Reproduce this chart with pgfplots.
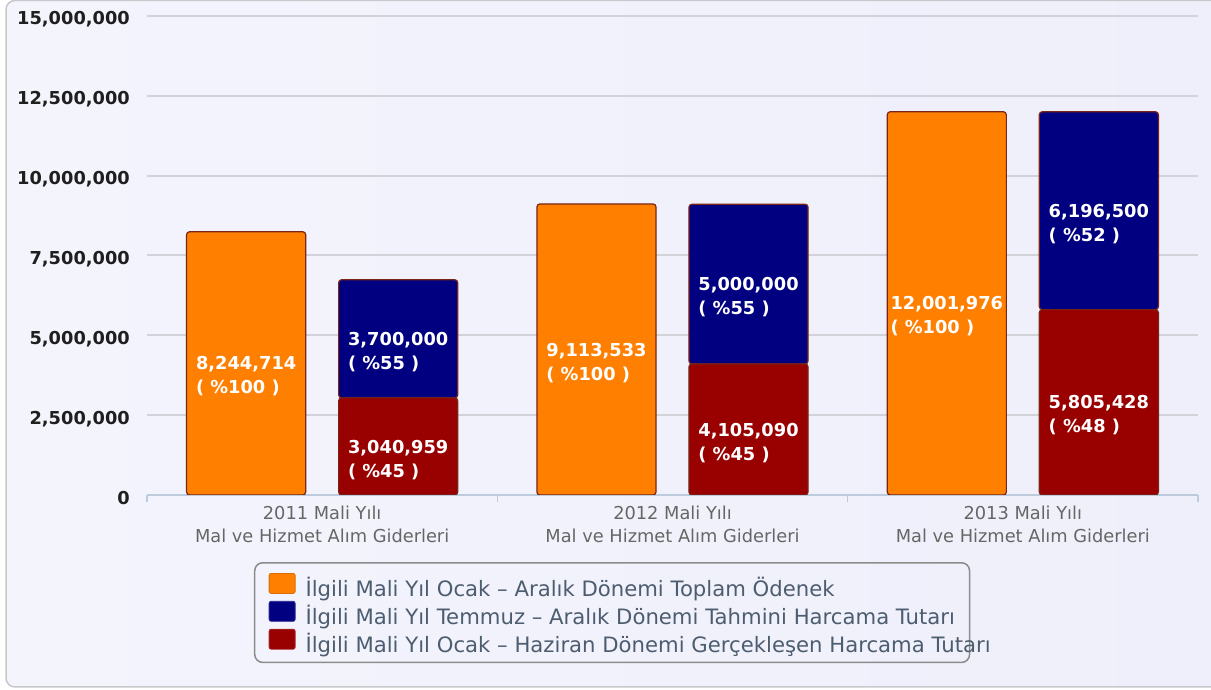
\documentclass[border=0pt]{standalone}
\usepackage{fontspec}
\setmainfont{DejaVu Sans}
\usepackage{pgfplots}
\pgfplotsset{compat=1.18}

\definecolor{bgA}{HTML}{F4F4FD}
\definecolor{bgB}{HTML}{EFEFFB}
\definecolor{frame}{HTML}{C8C8CC}
\definecolor{gridc}{HTML}{D2D2D8}
\definecolor{axisc}{HTML}{BCCCDC}
\definecolor{orangeC}{HTML}{FF8000}
\definecolor{navyC}{HTML}{000080}
\definecolor{redC}{HTML}{990000}
\definecolor{barline}{HTML}{7A2418}
\definecolor{xlab}{HTML}{666666}
\definecolor{legtext}{HTML}{4C5D70}
\definecolor{legline}{HTML}{8C8C8C}

\newcommand{\lblfont}{\fontsize{17.8}{24}\selectfont}
% legend text overruns its frame a little, as in the original
\newcommand{\legtxt}[1]{\makebox[650pt][l]{#1}}

% same frame for every overlaid axis
\pgfplotsset{
  frame geom/.style={
    at={(147pt,195pt)}, anchor=south west,
    width=1051pt, height=479pt, scale only axis,
    xmin=-0.5, xmax=2.5, ymin=0, ymax=15000000,
    enlargelimits=false},
  bar look/.style={draw=barline, line width=1.2pt, rounded corners=3pt},
}

\begin{document}
\begin{tikzpicture}
\useasboundingbox (0,0) rectangle (1211pt,690pt);
\begin{scope}
  \clip (0,0) rectangle (1211pt,690pt);
  \draw[draw=frame, line width=1.5pt, rounded corners=9pt,
        left color=bgA, right color=bgB] (6pt,3pt) rectangle (1240pt,689.5pt);
\end{scope}

% main axis: grid, ticks, legend, total bars
\begin{axis}[
  frame geom,
  ybar, bar width=0.34, bar shift=0pt,
  axis x line*=bottom, axis y line*=left,
  y axis line style={draw=none},
  x axis line style={draw=axisc, line width=2pt},
  ymajorgrids, grid style={draw=gridc, line width=2pt},
  major tick length=0pt,
  ytick={0,2500000,5000000,7500000,10000000,12500000,15000000},
  scaled y ticks=false,
  yticklabel style={/pgf/number format/fixed, /pgf/number format/precision=0,
    /pgf/number format/1000 sep={,}, /pgf/number format/assume math mode=true,
    font=\bfseries\fontsize{17.8}{20}\selectfont, text=black!88,
    anchor=east, inner sep=0pt, xshift=-17pt, yshift=-3.5pt},
  xtick={0,1,2},
  xticklabels={{2011 Mali Yılı\\Mal ve Hizmet Alım Giderleri},
               {2012 Mali Yılı\\Mal ve Hizmet Alım Giderleri},
               {2013 Mali Yılı\\Mal ve Hizmet Alım Giderleri}},
  xticklabel style={align=center, font=\fontsize{17.8}{23}\selectfont,
    text=xlab, inner sep=0pt, yshift=-11pt},
  extra x ticks={-0.5,0.5,1.5,2.5},
  extra x tick labels={},
  extra x tick style={major tick length=7pt, tick align=outside,
    tick style={draw=axisc, line width=1.5pt}},
  legend style={at={(0.1018,-0.1399)}, anchor=north west,
    draw=legline, line width=1.5pt, rounded corners=8pt, fill=none,
    inner xsep=14pt, inner ysep=10.25pt, row sep=4.5pt, column sep=10pt,
    font=\fontsize{21.2}{24}\selectfont, text=legtext,
    nodes={inner sep=0pt, text height=10pt, text depth=0pt}},
  legend cell align=left,
  legend image code/.code={%
    \path[draw=none, fill=none] (0pt,-5pt) rectangle (26pt,18pt);
    \draw[#1, rounded corners=2pt, line width=0.8pt] (0pt,-2pt) rectangle (26pt,18pt);},
]
% toplam odenek
\addplot[forget plot, fill=orangeC, bar look]
  coordinates {(-0.217,8244714) (0.783,9113533) (1.783,12001976)};

\addlegendimage{fill=orangeC, draw=orangeC!85!black}
\addlegendentry{\legtxt{İlgili Mali Yıl Ocak – Aralık Dönemi Toplam Ödenek}}
\addlegendimage{fill=navyC, draw=navyC!85!white}
\addlegendentry{\legtxt{İlgili Mali Yıl Temmuz – Aralık Dönemi Tahmini Harcama Tutarı}}
\addlegendimage{fill=redC, draw=redC!85!white}
\addlegendentry{\legtxt{İlgili Mali Yıl Ocak – Haziran Dönemi Gerçekleşen Harcama Tutarı}}
\end{axis}

% stacked bars: gerceklesen (alt) + tahmini (ust)
\begin{axis}[frame geom, hide axis, ybar stacked, bar width=0.34]
\addplot[fill=redC, bar look]
  coordinates {(0.217,3040959) (1.217,4105090) (2.217,5805428)};
\addplot[fill=navyC, bar look]
  coordinates {(0.217,3700000) (1.217,5000000) (2.217,6196500)};
\end{axis}

% value labels at the middle of each segment
\begin{axis}[frame geom, hide axis]
\addplot[draw=none, mark=none,
  point meta=explicit symbolic, nodes near coords,
  nodes near coords align=center,
  nodes near coords style={anchor=center, yshift=-13.2pt, inner sep=0pt,
    align=left, text=white, font=\bfseries\lblfont}]
  coordinates {
    (-0.217,4122357) [8,244,714\\( \%100 )]
    (0.217,1520480)  [3,040,959\\( \%45 )]
    (0.217,4890959)  [3,700,000\\( \%55 )]
    (0.783,4556767)  [9,113,533\\( \%100 )]
    (1.217,2052545)  [4,105,090\\( \%45 )]
    (1.217,6605090)  [5,000,000\\( \%55 )]
    (1.783,6000988)  [12,001,976\\( \%100 )]
    (2.217,2902714)  [5,805,428\\( \%48 )]
    (2.217,8903678)  [6,196,500\\( \%52 )]
  };
\end{axis}
\end{tikzpicture}
\end{document}
